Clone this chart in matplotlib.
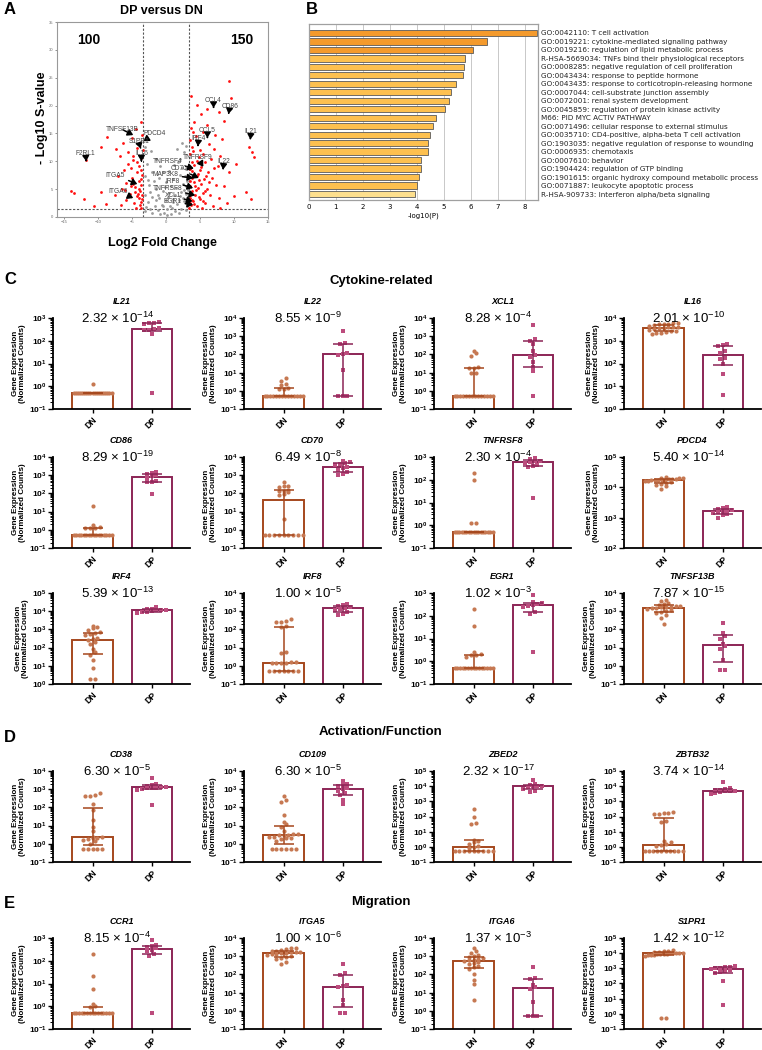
import numpy as np
import matplotlib
matplotlib.use('Agg')
import matplotlib.pyplot as plt
from matplotlib.ticker import LogLocator, NullFormatter, FuncFormatter

plt.rcParams['font.family'] = ['Liberation Sans', 'DejaVu Sans']
plt.rcParams['mathtext.fontset'] = 'custom'
plt.rcParams['mathtext.rm'] = 'Liberation Sans'
plt.rcParams['mathtext.it'] = 'Liberation Sans:italic'
plt.rcParams['mathtext.bf'] = 'Liberation Sans:bold'

# ---------------- data: volcano (A) ----------------
sig_x = [3.75, 9.3, 9.6, 4.6, 5.2, 7.8, 8.5, 6.0, 4.1, 3.7, 5.5, 7.2, 8.3, 4.4, 6.4, 5.0, 3.9, 7.0, 8.0, 6.6,
         4.8, 3.6, 5.7, 7.6, 10.3, 9.2, 12.2, 12.6, 12.9, 4.2, 3.5, 5.0, 6.2, 4.5, 3.8, 5.6, 6.8, 4.1, 5.2, 7.3,
         3.6, 4.7, 6.0, 8.5, 3.9, 5.5, 4.3, 6.5, 3.5, 5.0, 7.8, 4.0, 5.8, 3.7, 4.6, 6.9, 10.0, 11.8, 12.5, 9.0,
         3.4, 5.3, 8.0, 3.6, 4.0, 6.0, 5.5, 4.4, 3.8, 5.9, 4.9, 3.5,
         4.3, 3.6, 4.9, 3.9, 5.4, 4.2, 3.5, 4.7, 6.3, 5.1, 3.8, 4.5, 7.1, 4.0, 5.7, 3.6,
         -3.7, -4.4, -8.6, -5.0, -6.3, -3.5, -7.4, -4.2, -5.6, -3.6, -4.8, -6.8, -11.7, -9.5, -3.9, -5.2,
         -4.3, -6.2, -3.5, -5.0, -7.0, -4.0, -5.8, -3.6, -4.6, -6.5, -3.8, -5.3, -4.2, -7.5, -3.5, -5.9,
         -4.7, -3.8, -6.6, -4.4, -8.8, -13.9, -13.5, -12.0, -10.5, -9.5, -3.4, -4.9, -3.7, -5.5, -4.1, -3.6,
         -3.9, -4.5, -3.5, -5.1, -4.0, -3.7, -4.8, -6.0, -3.6, -4.3]
sig_y = [21.8, 24.5, 21.4, 20.1, 18.5, 18.9, 17.2, 16.5, 17.0, 16.0, 15.2, 14.8, 14.0, 14.6, 13.1, 12.0, 12.6, 12.2, 11.0, 10.4,
         10.8, 11.3, 9.8, 9.2, 9.5, 8.0, 12.6, 11.6, 10.8, 9.4, 8.6, 8.4, 8.0, 7.4, 7.0, 6.8, 7.0, 6.2, 5.9, 5.8,
         5.5, 5.2, 5.0, 5.5, 4.6, 4.3, 3.9, 4.0, 3.5, 3.2, 3.5, 2.8, 2.5, 2.2, 1.9, 2.0, 3.8, 4.5, 3.2, 2.6,
         1.7, 1.6, 1.6, 13.8, 15.2, 19.3, 11.3, 4.8, 9.9, 7.4, 6.6, 6.4,
         5.6, 4.0, 3.6, 3.1, 2.9, 2.4, 2.6, 7.8, 6.2, 9.0, 8.2, 10.0, 8.8, 11.8, 4.7, 7.2,
         17.0, 15.8, 14.3, 14.2, 13.2, 14.8, 12.2, 12.4, 11.6, 10.6, 10.2, 10.9, 10.2, 12.5, 9.2, 8.8,
         8.0, 8.4, 7.6, 7.0, 7.3, 6.5, 6.1, 5.8, 5.3, 5.0, 4.6, 4.2, 3.7, 3.9, 3.2, 3.0,
         2.6, 2.1, 2.2, 1.7, 2.4, 4.7, 4.3, 3.3, 2.0, 4.4, 12.0, 11.0, 6.8, 9.6, 4.1, 1.7,
         5.0, 4.5, 4.0, 5.6, 3.4, 2.7, 6.0, 4.8, 8.4, 9.8]
ns_x = [-3.0, -2.2, -1.5, -0.8, 0.5, 1.2, 2.0, 2.6, 2.3, 2.9, 1.6, -2.8, -2.0, -1.0, 0.0, 1.0, 2.0, 3.0, -3.0, -2.5,
        -1.5, -0.5, 0.5, 1.5, 2.5, 3.1, -1.0, 0.0, 1.0, 2.0, 3.0, -2.0, -3.1, -2.6, -0.6, 0.6, 1.6, 2.6, -1.6, 0.2,
        -0.3, 1.3, -1.2, 2.2, -2.3, 0.7, -0.9, 1.9, -2.0, 2.9, -3.0, 0.1, 3.1, -2.9, 1.4, -0.2, 0.8, -1.8, 2.4, 1.8, -0.5,
        2.7, 2.2, 3.0, 2.5, 1.9, -2.4, -1.1, 0.3, 1.1, -0.4, 2.8, 3.2, -2.7, 0.9, -1.4]
ns_y = [12.5, 11.8, 10.4, 9.2, 8.2, 9.3, 10.5, 11.6, 13.2, 12.7, 12.2, 9.6, 8.0, 7.0, 6.2, 6.8, 7.6, 8.6, 7.3, 5.8,
        5.0, 4.6, 4.3, 5.2, 6.0, 6.4, 3.4, 3.0, 3.3, 3.8, 4.2, 3.6, 3.9, 2.7, 2.2, 2.0, 2.4, 2.9, 2.0, 1.4,
        0.8, 1.1, 1.2, 1.5, 1.4, 0.6, 0.5, 0.7, 0.7, 1.2, 1.0, 0.3, 2.0, 1.8, 4.0, 5.4, 5.6, 6.5, 8.8, 9.9, 8.1,
        4.9, 4.4, 5.5, 3.5, 3.1, 4.4, 4.0, 3.6, 2.7, 1.9, 7.4, 4.8, 6.7, 1.7, 3.0]
n_down, n_up = 100, 150

vol_genes = ['CCL4', 'CD86', 'CCL5', 'IL21', 'IRF4', 'IL22', 'TNFRSF9', 'TNFRSF4', 'CD70', 'MAP3K8', 'IRF8',
             'TNFRSF8', 'XCL1', 'EGR1', 'TNFSF13B', 'PDCD4', 'S1PR1', 'IL16', 'F2RL1', 'ITGA5', 'ITGA6']
vol_gene_x = [7.0, 9.2, 6.1, 12.4, 4.7, 8.4, 5.5, 4.1, 4.8, 4.0, 4.0, 4.3, 3.9, 4.0, -4.8, -3.3, -3.7, -3.6, -11.7, -4.2, -4.8]
vol_gene_y = [19.6, 18.5, 14.2, 13.9, 12.7, 8.5, 9.0, 8.7, 7.0, 7.0, 5.2, 3.9, 2.8, 2.2, 14.7, 13.6, 12.3, 10.0, 10.0, 5.9, 3.4]

# ---------------- data: enrichment (B) ----------------
go_terms = ['GO:0042110: T cell activation',
            'GO:0019221: cytokine-mediated signaling pathway',
            'GO:0019216: regulation of lipid metabolic process',
            'R-HSA-5669034: TNFs bind their physiological receptors',
            'GO:0008285: negative regulation of cell proliferation',
            'GO:0043434: response to peptide hormone',
            'GO:0043435: response to corticotropin-releasing hormone',
            'GO:0007044: cell-substrate junction assembly',
            'GO:0072001: renal system development',
            'GO:0045859: regulation of protein kinase activity',
            'M66: PID MYC ACTIV PATHWAY',
            'GO:0071496: cellular response to external stimulus',
            'GO:0035710: CD4-positive, alpha-beta T cell activation',
            'GO:1903035: negative regulation of response to wounding',
            'GO:0006935: chemotaxis',
            'GO:0007610: behavior',
            'GO:1904424: regulation of GTP binding',
            'GO:1901615: organic hydroxy compound metabolic process',
            'GO:0071887: leukocyte apoptotic process',
            'R-HSA-909733: Interferon alpha/beta signaling']
go_logp = [8.45, 6.6, 6.1, 5.8, 5.75, 5.7, 5.47, 5.28, 5.2, 5.05, 4.7, 4.6, 4.49, 4.43, 4.4,
           4.15, 4.15, 4.09, 4.0, 3.93]

# ---------------- data: expression panels (C-E) ----------------
IL21_DN = [1.2] + [0.5] * 19
IL21_DP = [650, 600, 600, 550, 350, 320, 300, 290, 190, 0.5]
IL22_DN = [5, 3.5, 2.5, 2.2, 1.4, 1.3, 1.3] + [0.5] * 14
IL22_DP = [2000, 420, 350, 120, 105, 95, 14, 0.5, 0.5, 0.5]
XCL1_DN = [150, 120, 85, 20, 18, 17, 10, 9] + [0.5] * 14
XCL1_DP = [4000, 700, 550, 350, 150, 90, 75, 40, 20, 12, 0.5]
IL16_DN = [6000, 5800, 5500, 5500, 5200, 5000, 4500, 4200, 4000, 3900, 3700, 3500, 3300, 3000, 2800,
           2600, 2500, 2300, 2200, 2000]
IL16_DP = [700, 650, 600, 350, 280, 170, 150, 100, 35, 4]
CD86_DN = [20, 1.9, 1.4, 1.3, 1.3, 1.2] + [0.5] * 16
CD86_DP = [1500, 1300, 1100, 1000, 900, 700, 500, 450, 400, 90]
CD70_DN = [400, 250, 240, 220, 150, 140, 130, 120, 90, 80, 4] + [0.5] * 9
CD70_DP = [6000, 5000, 4500, 4000, 3500, 3000, 2500, 2000, 1500, 1200, 1000]
TNFRSF8_DN = [200, 100, 1.2, 1.2] + [0.5] * 17
TNFRSF8_DP = [900, 800, 700, 650, 600, 550, 450, 400, 350, 15]
PDCD4_DN = [22000, 21000, 20000, 20000, 19000, 19000, 18500, 18000, 18000, 17500, 17000, 17000,
            16500, 16000, 15000, 14000, 13000, 12000, 11000, 9000]
PDCD4_DP = [2300, 2100, 1900, 1800, 1700, 1600, 1500, 1400, 1300, 1200, 1000]
IRF4_DN = [1500, 1300, 1200, 900, 700, 600, 550, 500, 350, 300, 250, 200, 150, 80, 60, 40, 20, 8, 2, 2]
IRF4_DP = [16000, 14000, 13000, 12000, 12000, 11000, 10000, 9000, 8500, 8000]
IRF8_DN = [350, 300, 250, 250, 150, 130, 6, 5, 1.6, 1.6, 1.5, 1.5, 1.4, 1.4] + [0.5] * 7
IRF8_DP = [2500, 2200, 2000, 1800, 1500, 1400, 1200, 900, 700, 600]
EGR1_DN = [200, 35, 2.5, 2.0, 1.8, 1.8, 1.5] + [0.5] * 15
EGR1_DP = [800, 400, 350, 320, 300, 280, 250, 150, 120, 2.5]
TNFSF13B_DN = [4000, 3500, 3000, 2500, 2200, 2000, 2000, 1800, 1700, 1600, 1500, 1500, 1300, 1200,
               1000, 900, 800, 600, 400, 200]
TNFSF13B_DP = [220, 60, 45, 30, 15, 12, 8, 2, 0.6, 0.6]
CD38_DN = [600, 500, 450, 400, 160, 70, 20, 8, 5, 2.5, 2.3, 2.2, 2.0, 1.8, 1.6, 1.5, 1.0] + [0.5] * 5
CD38_DP = [4000, 2000, 1800, 1500, 1400, 1300, 1200, 1200, 1100, 1000, 900, 140]
CD109_DN = [450, 250, 200, 40, 15, 12, 8, 5, 3.5, 3.5, 3.2, 3, 3, 2.5, 2.5, 2, 2, 1.8, 1.5] + [0.5] * 6
CD109_DP = [3000, 2000, 1800, 1500, 1200, 1000, 800, 600, 500, 250, 150]
ZBED2_DN = [330, 90, 40, 30, 3, 2.4, 2.2, 1.6, 1.1, 1.0, 0.9] + [0.5] * 9
ZBED2_DP = [25000, 14000, 12000, 11000, 10000, 10000, 9000, 7000, 5000, 4000]
ZBTB32_DN = [200, 180, 160, 150, 150, 50, 45, 2.5, 2, 1.5, 1.3, 1.2] + [0.5] * 10
ZBTB32_DP = [20000, 8000, 6500, 6000, 5500, 5000, 5000, 4500, 4000, 3500, 3000]
CCR1_DN = [200, 22, 6, 1.3, 1.0, 0.9] + [0.5] * 15
CCR1_DP = [800, 500, 450, 400, 350, 300, 280, 200, 170, 0.5]
ITGA5_DN = [3000, 2800, 2500, 2200, 2000, 2000, 1800, 1700, 1600, 1500, 1500, 1400, 1300, 1200, 1000,
            900, 800, 700, 500, 350]
ITGA5_DP = [350, 120, 90, 25, 22, 20, 4, 2, 0.8, 0.8]
ITGA6_DN = [3000, 2000, 1500, 1200, 1000, 900, 800, 700, 650, 600, 550, 500, 400, 350, 300, 250, 200,
            100, 50, 30, 4]
ITGA6_DP = [250, 65, 55, 25, 20, 16, 3, 0.5, 0.5, 0.5]
S1PR1_DN = [15000, 14000, 13000, 12000, 12000, 11000, 11000, 10000, 10000, 10000, 9500, 9000, 9000,
            8500, 8000, 8000, 7500, 7000, 0.5, 0.5]
S1PR1_DP = [1500, 1300, 1200, 1100, 1000, 900, 800, 700, 600, 500, 150, 4]

genes = ['IL21', 'IL22', 'XCL1', 'IL16', 'CD86', 'CD70', 'TNFRSF8', 'PDCD4', 'IRF4', 'IRF8', 'EGR1',
         'TNFSF13B', 'CD38', 'CD109', 'ZBED2', 'ZBTB32', 'CCR1', 'ITGA5', 'ITGA6', 'S1PR1']
dn_values = [IL21_DN, IL22_DN, XCL1_DN, IL16_DN, CD86_DN, CD70_DN, TNFRSF8_DN, PDCD4_DN, IRF4_DN, IRF8_DN,
             EGR1_DN, TNFSF13B_DN, CD38_DN, CD109_DN, ZBED2_DN, ZBTB32_DN, CCR1_DN, ITGA5_DN, ITGA6_DN, S1PR1_DN]
dp_values = [IL21_DP, IL22_DP, XCL1_DP, IL16_DP, CD86_DP, CD70_DP, TNFRSF8_DP, PDCD4_DP, IRF4_DP, IRF8_DP,
             EGR1_DP, TNFSF13B_DP, CD38_DP, CD109_DP, ZBED2_DP, ZBTB32_DP, CCR1_DP, ITGA5_DP, ITGA6_DP, S1PR1_DP]
p_mant = ['2.32', '8.55', '8.28', '2.01', '8.29', '6.49', '2.30', '5.40', '5.39', '1.00', '1.02', '7.87',
          '6.30', '6.30', '2.32', '3.74', '8.15', '1.00', '1.37', '1.42']
p_exp = [-14, -9, -4, -10, -19, -8, -4, -14, -13, -5, -3, -15, -5, -5, -17, -14, -4, -6, -3, -12]
y_lo_exp = [-1, -1, -1, 0, -1, -1, -1, 2, 0, -1, -1, -1, -1, -1, -1, -1, -1, -1, -1, -1]
y_hi_exp = [3, 4, 4, 4, 4, 4, 3, 5, 5, 4, 3, 4, 4, 4, 5, 5, 3, 4, 4, 5]
groups = ['DN', 'DP']

# ---------------- figure ----------------
W, H = 762, 1050
fig = plt.figure(figsize=(W / 100, H / 100), dpi=100)


def add_ax(l, t, w, h):
    return fig.add_axes([l / W, 1 - (t + h) / H, w / W, h / H])


def ftext(x, y, s, **kw):
    fig.text(x / W, 1 - y / H, s, **kw)


# panel letters and section headers
for letter, x, y in [('A', 4, 10), ('B', 306, 10), ('C', 4, 280), ('D', 4, 738), ('E', 4, 904)]:
    ftext(x, y, letter, fontsize=12, fontweight='bold', va='center')
for title, y in [('Cytokine-related', 281), ('Activation/Function', 732), ('Migration', 902)]:
    ftext(381, y, title, fontsize=9.5, fontweight='bold', ha='center', va='center')

# ---- A: volcano ----
axA = add_ax(57, 22, 211, 195)
axA.scatter(ns_x, ns_y, s=4, color='#9b9b9b', linewidths=0, zorder=2)
axA.scatter(sig_x, sig_y, s=4, color='#ff1010', linewidths=0, zorder=2)
axA.axvline(-3.32, ls=(0, (2, 1.5)), color='#555555', lw=0.8, zorder=1)
axA.axvline(3.32, ls=(0, (2, 1.5)), color='#555555', lw=0.8, zorder=1)
axA.axhline(1.5, ls=(0, (2, 1.5)), color='#555555', lw=0.8, zorder=1)
axA.set_xlim(-16, 15)
axA.set_ylim(0, 35)
axA.set_xticks(range(-15, 16, 5))
axA.set_yticks(range(0, 36, 5))
axA.tick_params(labelsize=3, colors='#666666', length=1.5, width=0.5, pad=1)
for sp in axA.spines.values():
    sp.set_color('#999999')
    sp.set_linewidth(0.8)
axA.text(0.15, 0.91, str(n_down), transform=axA.transAxes, fontsize=10, fontweight='bold', ha='center', va='center')
axA.text(0.875, 0.91, str(n_up), transform=axA.transAxes, fontsize=10, fontweight='bold', ha='center', va='center')

label_pos = [(7.0, 21.0), (9.4, 19.9), (6.1, 15.6), (12.5, 15.3), (4.8, 14.1), (8.5, 9.9), (4.6, 10.7),
             (0.2, 10.0), (1.9, 8.7), (0.0, 7.6), (1.0, 6.3), (0.2, 5.1), (1.0, 3.8), (1.0, 2.7),
             (-6.4, 15.7), (-1.6, 15.0), (-4.0, 13.5), (-3.6, 11.4), (-11.8, 11.4), (-7.4, 7.5), (-7.0, 4.6)]
for g, gx, gy, (tx, ty) in zip(vol_genes, vol_gene_x, vol_gene_y, label_pos):
    axA.annotate(g, xy=(gx, gy), xytext=(tx, ty), fontsize=4.8, color='#444444', ha='center', va='center',
                 zorder=5,
                 arrowprops=dict(arrowstyle='-|>,head_length=0.32,head_width=0.2', color='black', lw=1.1,
                                 shrinkA=0.5, shrinkB=0, mutation_scale=10))
ftext(161, 11, 'DP versus DN', fontsize=9, fontweight='bold', ha='center', va='center')
ftext(162, 243, 'Log2 Fold Change', fontsize=9, fontweight='bold', ha='center', va='center')
ftext(42, 118, '- Log10 S-value', fontsize=9, fontweight='bold', ha='center', va='center', rotation=90)

# ---- B: enrichment bars ----
axB = add_ax(309, 24, 229, 176)
bar_cols = ['#F49A2C'] * 3 + ['#FDC04F'] * 16 + ['#FDDF8E']
yy = np.arange(len(go_terms))
axB.barh(yy, go_logp, height=0.75, color=bar_cols, edgecolor='#5a5a5a', linewidth=0.6, zorder=2)
axB.set_xlim(0, 8.5)
axB.set_ylim(19.7, -1.05)
axB.set_xticks(range(9))
axB.xaxis.grid(True, color='#c8c8c8', lw=0.7, zorder=0)
axB.set_axisbelow(True)
axB.yaxis.tick_right()
axB.set_yticks(yy)
axB.set_yticklabels(go_terms, fontsize=5.2, family='DejaVu Sans', color='#222222')
axB.tick_params(axis='y', length=0, pad=2)
axB.set_xticklabels([str(v) for v in range(9)], fontsize=5, family='DejaVu Sans')
axB.tick_params(axis='x', length=0, pad=3)
axB.set_xlabel('-log10(P)', fontsize=5, family='DejaVu Sans', labelpad=2)
for sp in axB.spines.values():
    sp.set_color('#a0a0a0')
    sp.set_linewidth(0.9)

# ---- C-E: expression panels ----
DN_EDGE, DN_DOT = '#A5471D', '#C67852'
DP_EDGE, DP_DOT = '#8C2556', '#BC4C7D'
col_left = [53, 244, 434, 624]
row_top = [318, 457, 593, 771, 938]
AW, AH = 137, 91
PX_PER_UNIT = AW / 2.32


def swarm_offsets(vals, ppd):
    y = np.log10(vals) * ppd
    order = np.argsort(y, kind='stable')
    offs = np.zeros(len(vals))
    bins, cur = [], [order[0]]
    for i in order[1:]:
        if y[i] - y[cur[0]] <= 3.5:
            cur.append(i)
        else:
            bins.append(cur)
            cur = [i]
    bins.append(cur)
    for b in bins:
        n = len(b)
        step = min(4.8, 38.0 / max(n - 1, 1))
        for k, i in enumerate(b):
            offs[i] = (k - (n - 1) / 2) * step / PX_PER_UNIT
    return offs


def exp_label(v, pos):
    return r'$\mathbf{10^{%d}}$' % int(round(np.log10(v)))


for i, gene in enumerate(genes):
    r, c = divmod(i, 4)
    ax = add_ax(col_left[c], row_top[r], AW, AH)
    ylo, yhi = 10.0 ** y_lo_exp[i], 10.0 ** y_hi_exp[i]
    ax.set_yscale('log')
    ax.set_ylim(ylo, yhi)
    ax.set_xlim(-0.67, 1.65)
    ppd = AH / (y_hi_exp[i] - y_lo_exp[i])
    for x, vals, edge, dot, mk in ((0, dn_values[i], DN_EDGE, DN_DOT, 'o'),
                                   (1, dp_values[i], DP_EDGE, DP_DOT, 's')):
        vals = np.asarray(vals, float)
        med = np.median(vals)
        q1, q3 = np.percentile(vals, [25, 75], method='weibull')
        ax.bar(x, med - ylo / 2, bottom=ylo / 2, width=0.68, color='white', edgecolor=edge, linewidth=1.4, zorder=1)
        ax.scatter(x + swarm_offsets(vals, ppd), vals, s=9, marker=mk, color=dot, linewidths=0, zorder=3,
                   clip_on=False)
        ax.errorbar(x, med, yerr=[[med - q1], [q3 - med]], fmt='none', ecolor=edge, elinewidth=1.1,
                    capsize=7, capthick=1.1, zorder=4)
    ax.yaxis.set_major_locator(LogLocator(base=10, numticks=12))
    ax.yaxis.set_minor_locator(LogLocator(base=10, subs=np.arange(2, 10), numticks=12))
    ax.yaxis.set_minor_formatter(NullFormatter())
    ax.yaxis.set_major_formatter(FuncFormatter(exp_label))
    ax.tick_params(axis='y', which='major', length=3.5, width=1, labelsize=6, pad=1)
    ax.tick_params(axis='y', which='minor', length=2, width=0.7)
    ax.set_xticks([0, 1])
    ax.set_xticklabels(groups, rotation=45, ha='right', va='top', rotation_mode='anchor',
                       fontweight='bold', fontsize=6.2)
    ax.tick_params(axis='x', length=3, width=1, pad=1.5)
    for sp in ('top', 'right'):
        ax.spines[sp].set_visible(False)
    for sp in ('left', 'bottom'):
        ax.spines[sp].set_linewidth(1.3)
    ax.set_ylabel('Gene Expression\n(Normalized Counts)', fontsize=5.8, fontweight='bold', labelpad=2,
                  linespacing=1.1)
    ax.text(0.5, 1.18, gene, transform=ax.transAxes, ha='center', va='center', fontsize=6.5,
            fontweight='bold', style='italic')
    ax.text(0.47, 1.0, '%s × 10$^{%d}$' % (p_mant[i], p_exp[i]), transform=ax.transAxes,
            ha='center', va='center', fontsize=9.5)

fig.savefig('out.png', dpi=100)
